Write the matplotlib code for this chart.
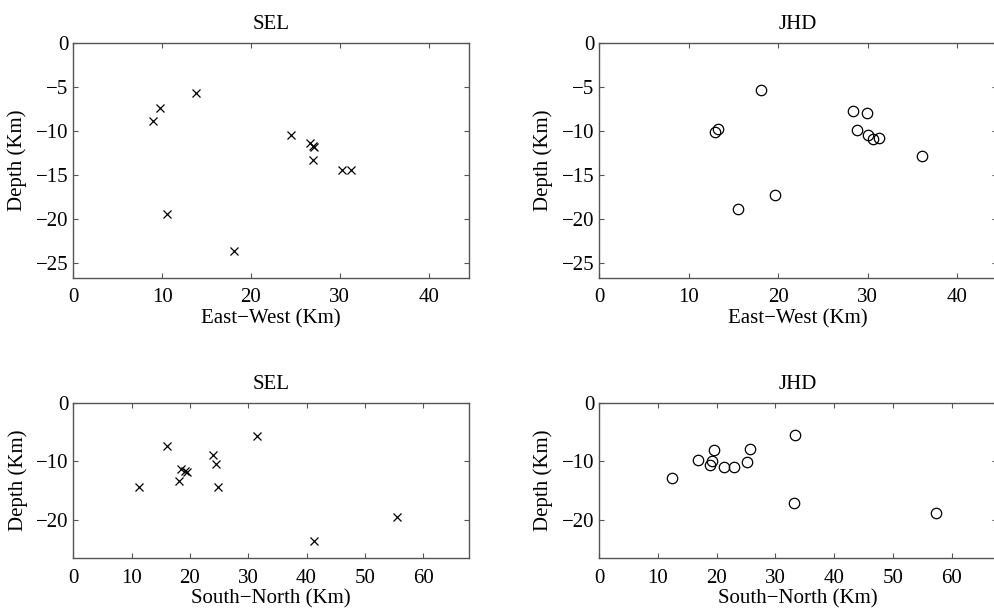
import matplotlib

matplotlib.use("Agg")
import matplotlib.pyplot as plt

# SEL hypocentres (x markers)
sel_ew = [9.0, 9.8, 13.8, 10.6, 18.1, 24.5, 26.6, 27.0, 27.1, 27.0, 30.2, 31.3]
sel_sn = [23.9, 16.0, 31.5, 55.6, 41.3, 24.5, 18.5, 19.2, 19.5, 18.1, 11.2, 24.9]
sel_depth = [-8.85, -7.4, -5.7, -19.45, -23.65, -10.5, -11.35, -11.7, -11.85, -13.35, -14.4, -14.4]

# JHD hypocentres (open circles)
jhd_ew = [18.1, 13.0, 13.3, 15.5, 19.7, 28.4, 29.9, 28.8, 30.0, 30.6, 31.3, 36.1]
jhd_ew_depth = [-5.4, -10.2, -9.8, -18.9, -17.3, -7.8, -8.0, -9.9, -10.5, -10.9, -10.8, -12.9]
jhd_sn = [12.5, 16.8, 18.9, 19.3, 19.6, 21.2, 23.0, 25.1, 25.7, 33.4, 33.2, 57.3]
jhd_sn_depth = [-12.9, -9.8, -10.6, -9.9, -8.0, -10.9, -11.0, -10.1, -7.9, -5.4, -17.2, -18.9]

ew_ticks = [0, 10, 20, 30, 40]
sn_ticks = [0, 10, 20, 30, 40, 50, 60]
ew_depth_ticks = [0, -5, -10, -15, -20, -25]
sn_depth_ticks = [0, -10, -20]

plt.rcParams["font.family"] = ["Liberation Serif", "DejaVu Serif"]
plt.rcParams["font.size"] = 15

W, H = 995, 612
fig = plt.figure(figsize=(W / 100, H / 100), dpi=100)


def panel(left, top, right, bottom):
    return fig.add_axes([left / W, 1 - bottom / H, (right - left) / W, (bottom - top) / H])


def style(ax, title, xlabel, xticks, yticks, xmax, ymin):
    ax.set_xlim(0, xmax)
    ax.set_ylim(ymin, 0)
    ax.set_xticks(xticks)
    ax.set_yticks(yticks)
    ax.set_title(title, pad=10, fontsize=15)
    ax.set_xlabel(xlabel, labelpad=1)
    ax.set_ylabel("Depth (Km)", labelpad=6)
    ax.tick_params(direction="in", top=True, right=True, length=3.5,
                   width=0.8, color="#555555")
    ax.tick_params(axis="x", pad=7.5)
    ax.tick_params(axis="y", pad=3.5)
    for sp in ax.spines.values():
        sp.set_color("#555555")
        sp.set_linewidth(1.0)


ax1 = panel(73.3, 42.5, 468.6, 278)
ax1.plot(sel_ew, sel_depth, "x", color="black", ms=5.5, mew=0.9)
style(ax1, "SEL", "East\u2212West (Km)", ew_ticks, ew_depth_ticks, 44.5, -26.7)

ax2 = panel(599, 42.5, 997.5, 278)
ax2.plot(jhd_ew, jhd_ew_depth, "o", mfc="none", mec="black", ms=7.5, mew=0.9)
style(ax2, "JHD", "East\u2212West (Km)", ew_ticks, ew_depth_ticks, 44.5, -26.7)

ax3 = panel(73.3, 403, 468.6, 558.3)
ax3.plot(sel_sn, sel_depth, "x", color="black", ms=5.5, mew=0.9)
style(ax3, "SEL", "South\u2212North (Km)", sn_ticks, sn_depth_ticks, 67.8, -26.6)

ax4 = panel(599, 403, 997.5, 558.3)
ax4.plot(jhd_sn, jhd_sn_depth, "o", mfc="none", mec="black", ms=7.5, mew=0.9)
style(ax4, "JHD", "South\u2212North (Km)", sn_ticks, sn_depth_ticks, 67.8, -26.6)

fig.savefig("out.png", dpi=100)
plt.close(fig)
